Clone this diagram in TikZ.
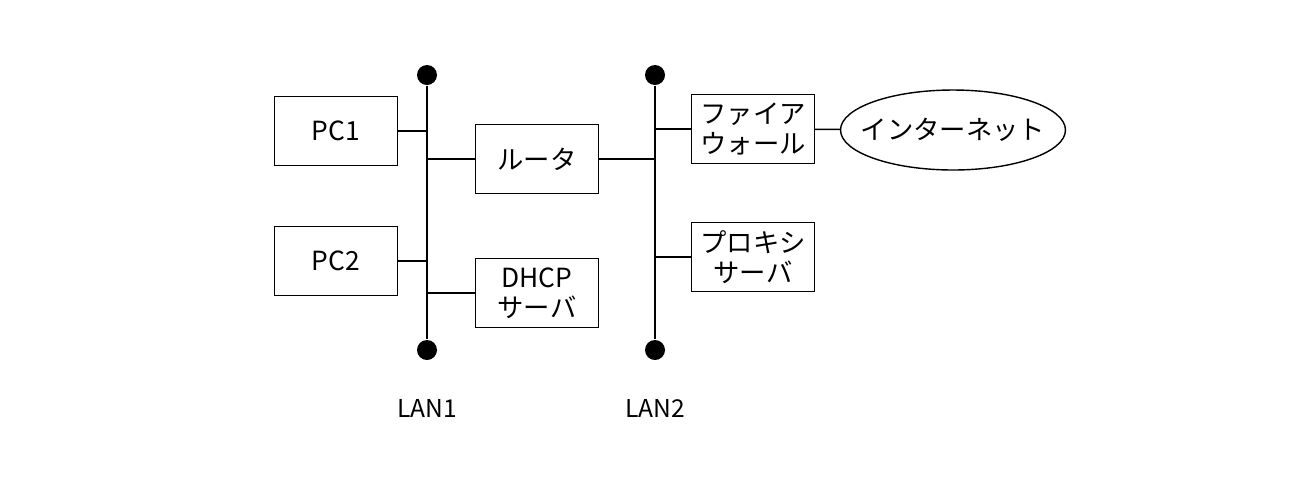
\documentclass[tikz,border=0pt]{standalone}
\usepackage{fontspec}
\setmainfont{Noto Sans CJK JP}
\usetikzlibrary{shapes.geometric}

\begin{document}
\begin{tikzpicture}[x=0.02cm,y=-0.02cm,thick,font=\fontsize{15}{17}\selectfont,
  main node/.style={draw,rectangle,minimum width=2.45cm,minimum height=1.37cm,align=center,inner sep=1pt},
  dot node/.style={circle,fill=black,inner sep=0pt,minimum size=0.4cm},
  label node/.style={font=\fontsize{14}{16}\selectfont}]
  \useasboundingbox (0,0) rectangle (1295,488);
  \node[main node] (pc1) at (336,131) {PC1};
  \node[main node] (pc2) at (336,261) {PC2};
  \node[main node] (router) at (537,159) {ルータ};
  \node[main node] (dhcp) at (537,293) {DHCP\\サーバ};
  \node[main node] (firewall) at (753,129) {ファイア\\ウォール};
  \node[main node] (proxy) at (753,257) {プロキシ\\サーバ};
  \node[draw,ellipse,inner sep=0pt,minimum width=4.5cm,minimum height=1.6cm] (internet) at (953,130) {};
  \node at (internet.center) {インターネット};
  \node[dot node] (lan1top) at (427,75) {};
  \node[dot node] (lan1bot) at (427,350) {};
  \node[dot node] (lan2top) at (655,75) {};
  \node[dot node] (lan2bot) at (655,350) {};
  \node[label node] (lan1) at (427,408) {LAN1};
  \node[label node] (lan2) at (655,408) {LAN2};

  \draw (lan1top) -- (lan1bot);
  \draw (lan2top) -- (lan2bot);
  \draw (pc1.east) -- (pc1.east -| lan1top);
  \draw (pc2.east) -- (pc2.east -| lan1top);
  \draw (router.west) -- (router.west -| lan1top);
  \draw (dhcp.west) -- (dhcp.west -| lan1top);
  \draw (router.east) -- (router.east -| lan2top);
  \draw (firewall.west) -- (firewall.west -| lan2top);
  \draw (proxy.west) -- (proxy.west -| lan2top);
  \draw (firewall) -- (internet);
\end{tikzpicture}
\end{document}
